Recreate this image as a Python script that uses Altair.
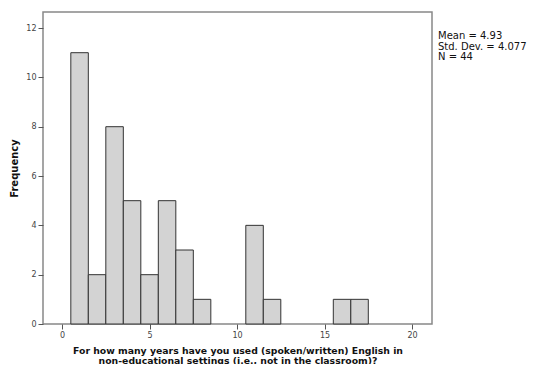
import altair as alt
import pandas as pd

bin_start = [0.5, 1.5, 2.5, 3.5, 4.5, 5.5, 6.5, 7.5, 10.5, 11.5, 15.5, 16.5]
counts = [11, 2, 8, 5, 2, 5, 3, 1, 4, 1, 1, 1]
stats = ["Mean = 4.93", "Std. Dev. = 4.077", "N = 44"]

df = pd.DataFrame({"start": bin_start, "count": counts})
df["end"] = df["start"] + 1

font = "DejaVu Sans"

bars = alt.Chart(df).mark_bar(fill="#d3d3d3", stroke="#333333", strokeWidth=1).encode(
    x=alt.X("start:Q", scale=alt.Scale(domain=[-1.09, 21.14], nice=False, zero=False),
            axis=alt.Axis(values=[0, 5, 10, 15, 20], title=["For how many years have you used (spoken/written) English in",
                                                             "non-educational settings (i.e., not in the classroom)?"],
                          grid=False, domain=False, tickColor="#555", tickSize=5,
                          labelFontSize=8, labelColor="#444", labelFont=font,
                          titleFontSize=9.3, titleFont=font, titleFontWeight="bold",
                          titleColor="#111", titlePadding=7, titleLineHeight=10)),
    x2="end:Q",
    y=alt.Y("count:Q", scale=alt.Scale(domain=[0, 12.65], nice=False),
            axis=alt.Axis(values=[0, 2, 4, 6, 8, 10, 12], title="Frequency",
                          grid=False, domain=False, tickColor="#555", tickSize=5,
                          labelFontSize=8, labelColor="#444", labelFont=font,
                          titleFontSize=10, titleFont=font, titleFontWeight="bold",
                          titleColor="#111", titlePadding=6)),
    y2=alt.datum(0),
)

sdf = pd.DataFrame({"t": stats, "i": list(range(len(stats)))})
txt = alt.Chart(sdf).mark_text(align="left", baseline="middle", fontSize=10, font=font, color="#111").encode(
    x=alt.value(395),
    y=alt.Y("i:Q", scale=alt.Scale(domain=[0, 2], range=[24, 45], nice=False, zero=False), axis=None),
    text="t:N",
)

chart = alt.layer(bars, txt).resolve_scale(y="independent").properties(
    width=389, height=312,
    autosize=alt.AutoSizeParams(type="none"),
    padding={"left": 35, "top": 4, "right": 105, "bottom": 40},
).configure_view(stroke="#888888", strokeWidth=1.5)

chart.save("out.html", embed_options={"renderer": "svg", "actions": False})
